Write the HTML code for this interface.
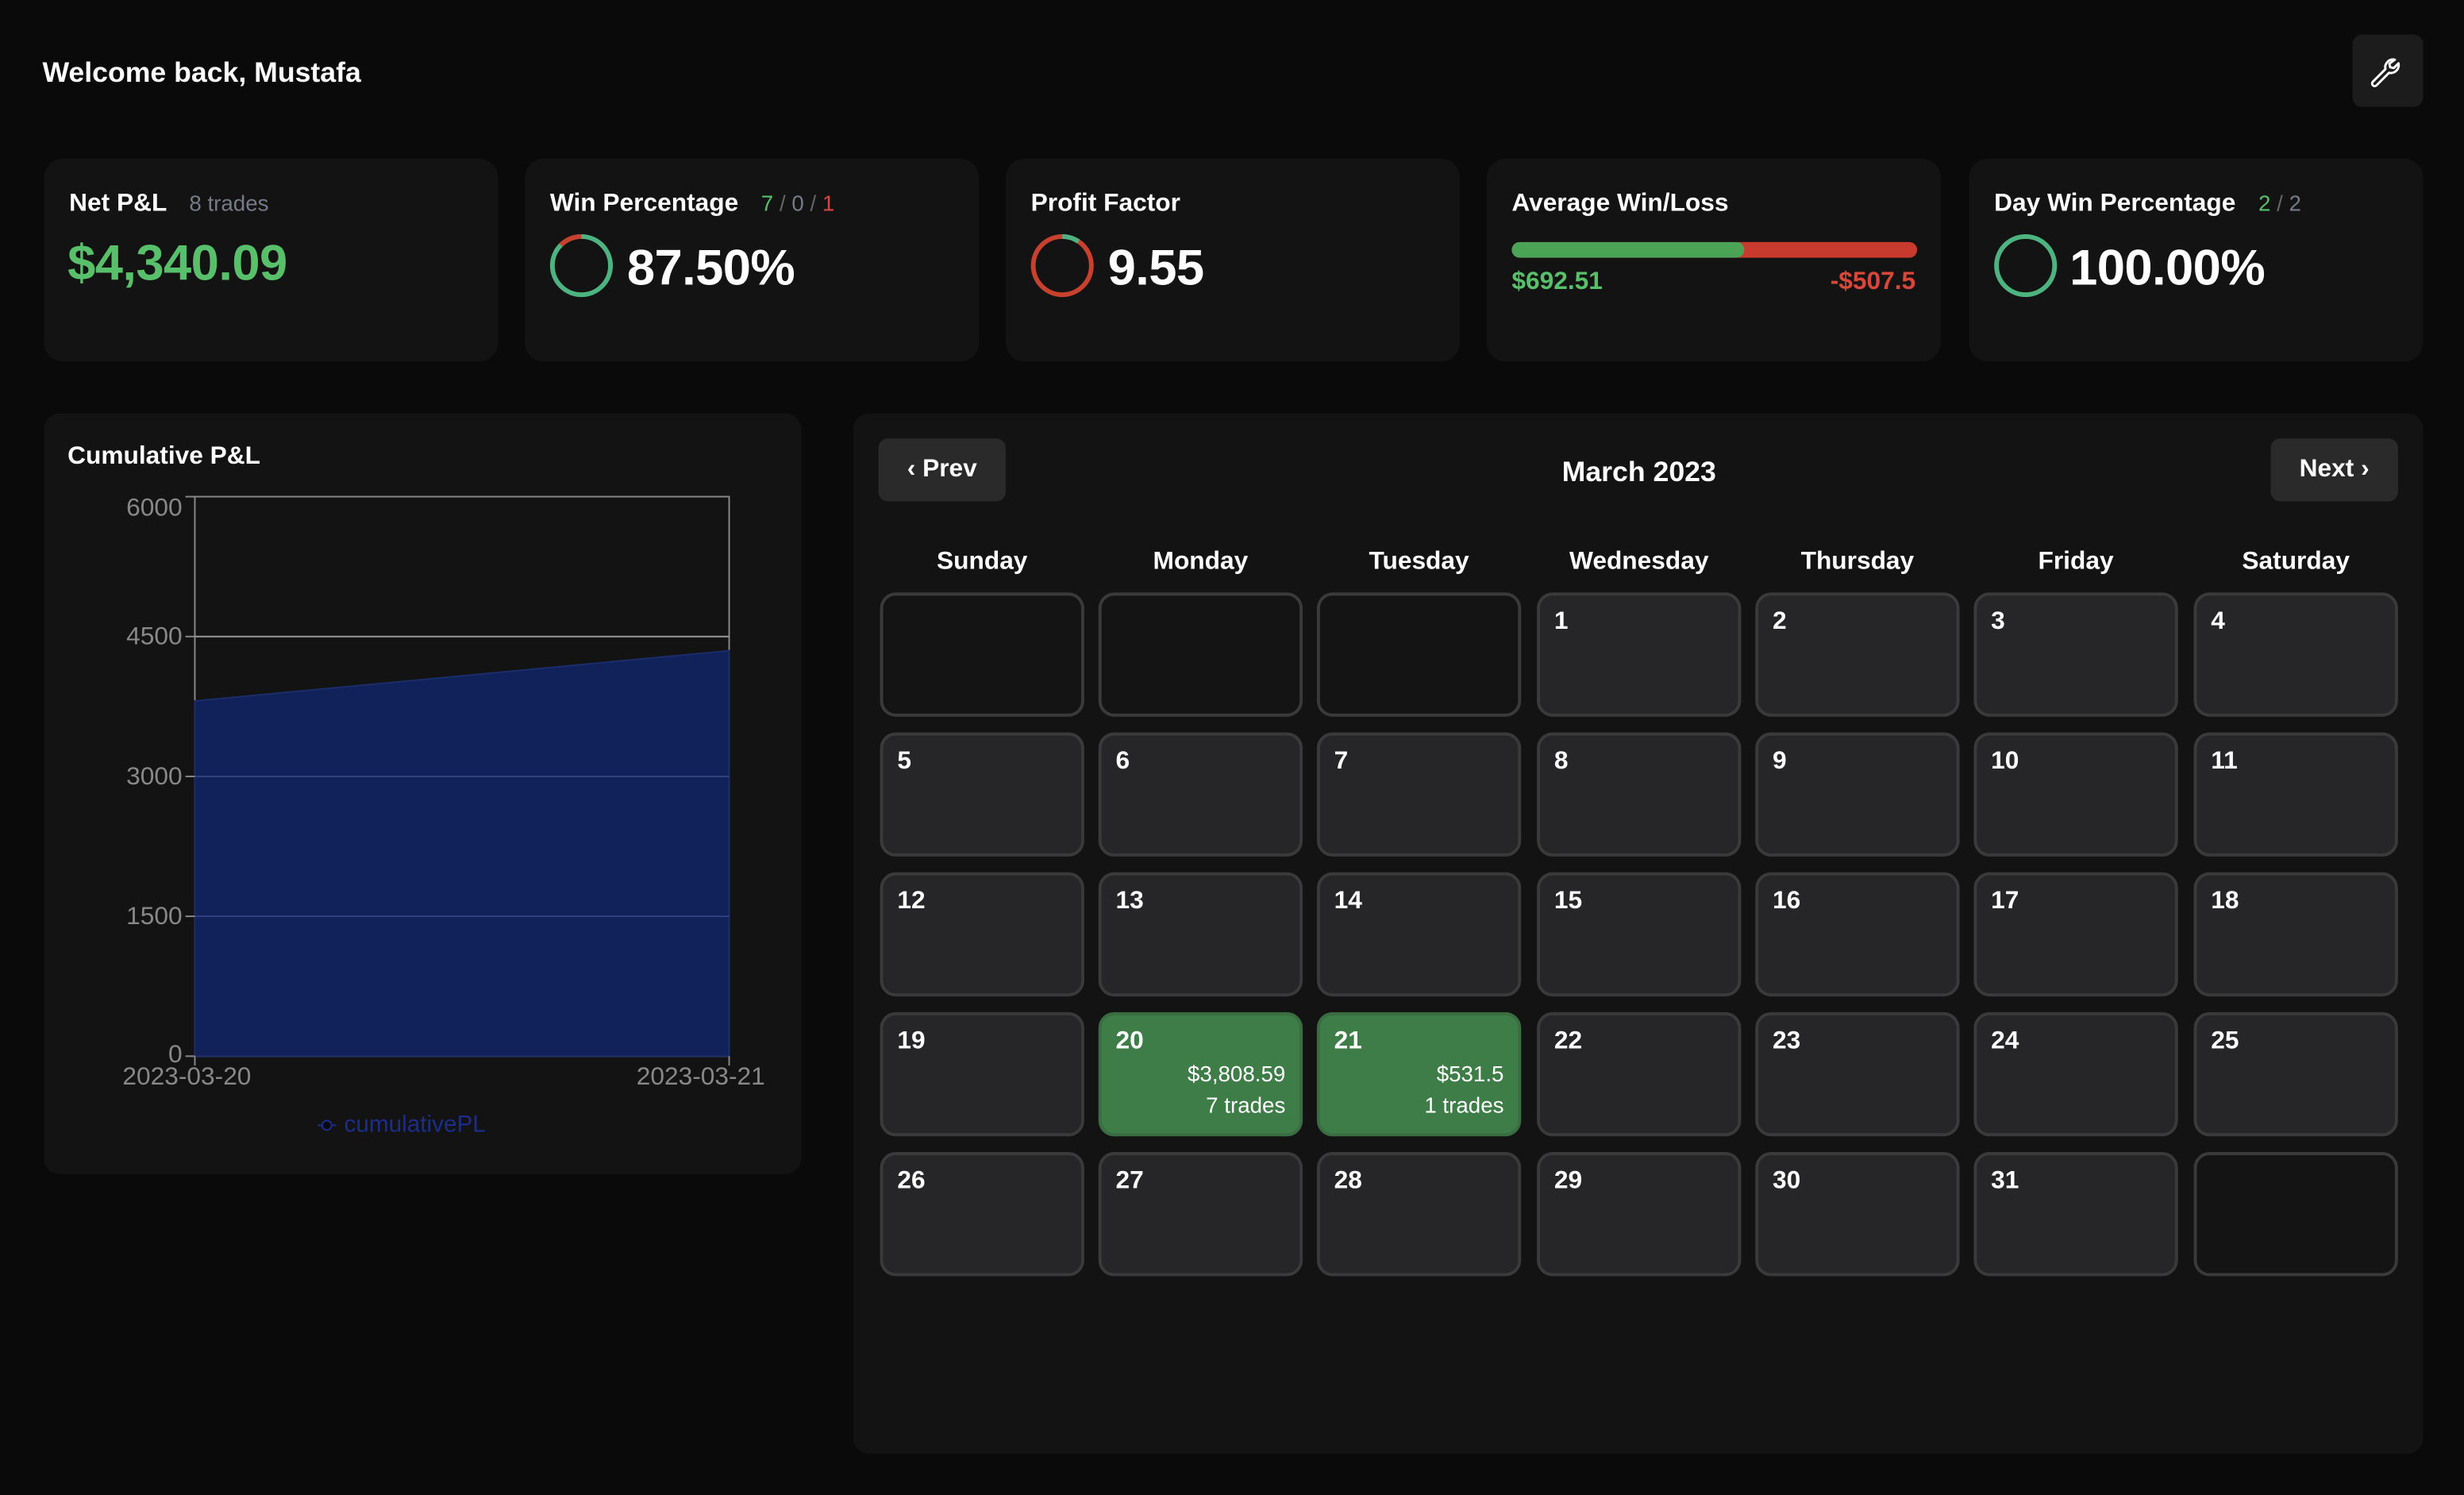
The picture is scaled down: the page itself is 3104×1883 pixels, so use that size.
<!DOCTYPE html>
<html><head><meta charset="utf-8"><style>
*{margin:0;padding:0;box-sizing:border-box}
html,body{width:3104px;height:1882px;background:#0a0a0a;overflow:hidden}
#w{position:absolute;left:0;top:0;width:1568px;height:951px;transform:scale(1.9796);transform-origin:0 0;font-family:"Liberation Sans",sans-serif;color:#fff}
.a{position:absolute}
.card{position:absolute;top:101px;width:289px;height:129px;background:#131313;border-radius:12px}
.t{position:absolute;left:16px;top:20px;font-size:16px;font-weight:600;white-space:nowrap}
.big{position:absolute;font-size:32px;font-weight:700;letter-spacing:-0.3px}
.ring{position:absolute;left:16px;top:48px;width:40px;height:40px;border-radius:50%;border:3px solid #4db380}
.panel{position:absolute;background:#131313;border-radius:10px}
.cell{position:absolute;width:130px;height:79px;border:2px solid #3a3a3a;border-radius:10px;background:#262628;font-size:16px;font-weight:600;padding:8px 0 0 9px}
.e{background:#141414}
.g{background:#3e7d47;border-color:#3a6d42}
.g .r{position:absolute;right:9px;font-size:14px;text-align:right;font-weight:500}
.dh{position:absolute;top:349px;width:130px;text-align:center;font-size:16px;font-weight:600}
.btn{position:absolute;top:279px;height:40px;background:#2a2a2a;border-radius:6px;font-size:16px;font-weight:600;line-height:40px;text-align:center}
.yl{position:absolute;right:1452px;font-size:16px;color:#888;text-align:right}
</style></head><body><div id="w">
<div class="a" style="left:27px;top:36px;font-size:18px;font-weight:600">Welcome back, Mustafa</div>
<div class="a" style="left:1497px;top:22px;width:45px;height:46px;background:#1c1c1c;border-radius:6px">
<svg width="45" height="46" viewBox="0 0 45 46"><path d="M27 16a5 5 0 0 0-6 6l-8 8a1.6 1.6 0 0 0 2.3 2.3l8-8a5 5 0 0 0 6-6l-3 3-2.3-.5-.5-2.3z" fill="none" stroke="#fff" stroke-width="1.5" stroke-linejoin="round"/></svg></div>

<div class="card" style="left:28px"><div class="t">Net P&amp;L <span style="color:#777b88;font-weight:500;font-size:14px;margin-left:10px">8 trades</span></div>
<div class="big" style="left:15px;top:48px;color:#58c06a">$4,340.09</div></div>

<div class="card" style="left:334px"><div class="t">Win Percentage <span style="font-size:14px;margin-left:10px;font-weight:500"><span style="color:#58c06a">7</span> <span style="color:#666">/</span> <span style="color:#777b88">0</span> <span style="color:#666">/</span> <span style="color:#d04a3c">1</span></span></div>
<div class="ring"></div>
<svg class="a" style="left:16px;top:48px" width="40" height="40"><circle cx="20" cy="20" r="18.5" fill="none" stroke="#c8412f" stroke-width="3" stroke-dasharray="14.5 200" transform="rotate(-135 20 20)"/></svg>
<div class="big" style="left:65px;top:51px">87.50%</div></div>

<div class="card" style="left:640px"><div class="t">Profit Factor</div>
<div class="ring" style="border-color:#c8412f"></div>
<svg class="a" style="left:16px;top:48px" width="40" height="40"><circle cx="20" cy="20" r="18.5" fill="none" stroke="#4db380" stroke-width="3" stroke-dasharray="11 200" transform="rotate(-90 20 20)"/></svg>
<div class="big" style="left:65px;top:51px">9.55</div></div>

<div class="card" style="left:946px"><div class="t">Average Win/Loss</div>
<div class="a" style="left:16px;top:53px;width:258px;height:10px;border-radius:5px;background:#c83a2e;overflow:hidden"><div style="width:148px;height:10px;background:#4aa357;border-radius:5px"></div></div>
<div class="a" style="left:16px;top:70px;font-size:16px;font-weight:700;color:#58c06a">$692.51</div>
<div class="a" style="right:16px;top:70px;font-size:16px;font-weight:700;color:#d9473a">-$507.5</div></div>

<div class="card" style="left:1253px"><div class="t">Day Win Percentage <span style="font-size:14px;margin-left:10px;font-weight:500"><span style="color:#58c06a">2</span> <span style="color:#666">/</span> <span style="color:#777b88">2</span></span></div>
<div class="ring"></div>
<div class="big" style="left:64px;top:51px">100.00%</div></div>

<div class="panel" style="left:28px;top:263px;width:482px;height:484px"></div>
<div class="a" style="left:43px;top:282px;font-size:16px;font-weight:600">Cumulative P&amp;L</div>
<svg class="a" style="left:0;top:0" width="520" height="740">
<rect x="124" y="316" width="340" height="356" fill="none" stroke="#888" stroke-width="1"/>
<line x1="124" x2="464" y1="405" y2="405" stroke="#999"/>
<polygon points="124,446 464,414 464,672 124,672" fill="#11215a" stroke="#1c2d6b"/>
<line x1="124" x2="464" y1="494" y2="494" stroke="#3a4a88" stroke-width="0.8"/>
<line x1="124" x2="464" y1="583" y2="583" stroke="#3a4a88" stroke-width="0.8"/>
<g stroke="#888"><line x1="118" x2="124" y1="316" y2="316"/><line x1="118" x2="124" y1="405" y2="405"/><line x1="118" x2="124" y1="494" y2="494"/><line x1="118" x2="124" y1="583" y2="583"/><line x1="118" x2="124" y1="672" y2="672"/><line x1="124" x2="124" y1="672" y2="678"/><line x1="464" x2="464" y1="672" y2="678"/></g>
<line x1="202" x2="214" y1="716" y2="716" stroke="#1c2d8b"/><circle cx="208" cy="716" r="3" fill="#0a0a0a" stroke="#1c2d8b"/>
</svg>
<div class="yl" style="top:315px">6000</div><div class="yl" style="top:397px">4500</div><div class="yl" style="top:486px">3000</div><div class="yl" style="top:575px">1500</div><div class="yl" style="top:663px">0</div>
<div class="a" style="left:78px;top:677px;font-size:16px;color:#888">2023-03-20</div>
<div class="a" style="left:405px;top:677px;font-size:16px;color:#888">2023-03-21</div>
<div class="a" style="left:219px;top:707px;font-size:15px;color:#1c2d8b">cumulativePL</div>

<div class="panel" style="left:543px;top:263px;width:999px;height:662px"></div>
<div class="btn" style="left:559px;width:81px">‹ Prev</div>
<div class="btn" style="left:1445px;width:81px">Next ›</div>
<div class="a" style="left:943px;top:290px;width:200px;text-align:center;font-size:18px;font-weight:600">March 2023</div>
<div class="dh" style="left:560px">Sunday</div><div class="dh" style="left:699px">Monday</div><div class="dh" style="left:838px">Tuesday</div><div class="dh" style="left:978px">Wednesday</div><div class="dh" style="left:1117px">Thursday</div><div class="dh" style="left:1256px">Friday</div><div class="dh" style="left:1396px">Saturday</div>
<div id="cal"></div>
<script>
var xs=[560,699,838,978,1117,1256,1396],ys=[377,466,555,644,733],h='';
for(var i=0;i<35;i++){var d=i-2,x=xs[i%7],y=ys[Math.floor(i/7)];
if(d<1||d>31){h+='<div class="cell e" style="left:'+x+'px;top:'+y+'px"></div>';continue;}
var c='cell',ex='';
if(d==20){c+=' g';ex='<div class="r" style="top:29px">$3,808.59</div><div class="r" style="top:49px">7 trades</div>';}
if(d==21){c+=' g';ex='<div class="r" style="top:29px">$531.5</div><div class="r" style="top:49px">1 trades</div>';}
h+='<div class="'+c+'" style="left:'+x+'px;top:'+y+'px">'+d+ex+'</div>';}
document.getElementById('cal').innerHTML=h;
</script>
</div></body></html>
